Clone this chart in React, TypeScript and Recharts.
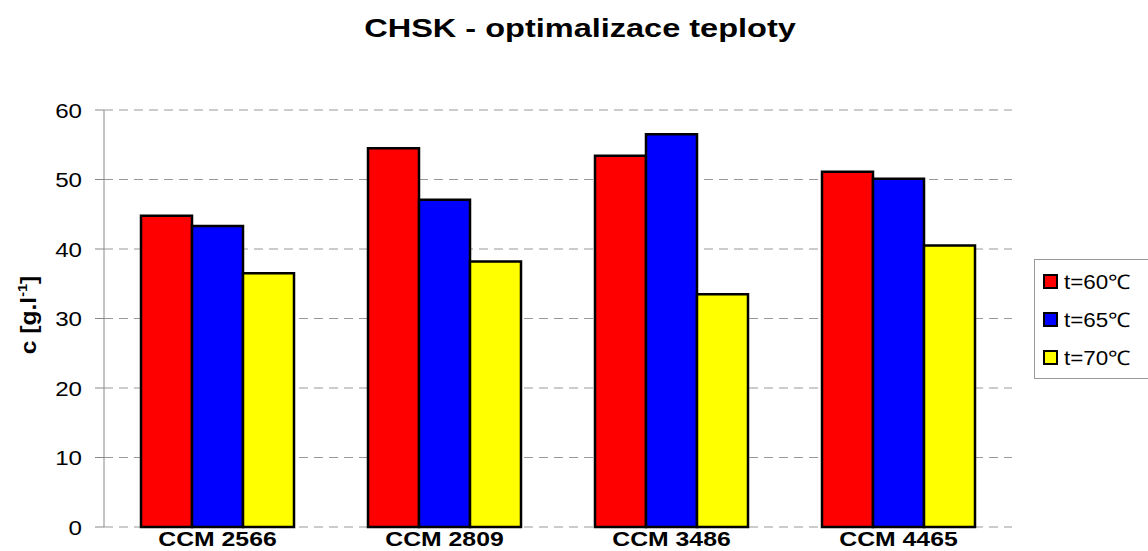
import { Bar, BarChart, CartesianGrid, XAxis, YAxis } from "recharts";

const categories = ["CCM 2566", "CCM 2809", "CCM 3486", "CCM 4465"];
const t60 = [44.8, 54.5, 53.4, 51.1];
const t65 = [43.3, 47.1, 56.5, 50.1];
const t70 = [36.5, 38.2, 33.5, 40.5];
const yTicks = [0, 10, 20, 30, 40, 50, 60];

const SERIES = [
  { key: "t60", name: "t=60℃", color: "#ff0000" },
  { key: "t65", name: "t=65℃", color: "#0000ff" },
  { key: "t70", name: "t=70℃", color: "#ffff00" },
];

const FONT = "'Liberation Sans', Arial, sans-serif";

const data = categories.map((name, i) => ({
  name,
  t60: t60[i],
  t65: t65[i],
  t70: t70[i],
}));

// reference text is stretched sideways a bit, so scale it horizontally
function XTick({ x, y, payload }: any) {
  return (
    <text
      transform={`translate(${x},${y + 19}) scale(1.18,1)`}
      textAnchor="middle"
      fontFamily={FONT}
      fontWeight="bold"
      fontSize={21}
      fill="#000"
    >
      {payload.value}
    </text>
  );
}

function YTick({ x, y, payload }: any) {
  return (
    <text
      transform={`translate(${x},${y}) scale(1.15,1)`}
      textAnchor="end"
      dy="0.36em"
      fontFamily={FONT}
      fontSize={21}
      fill="#000"
    >
      {payload.value}
    </text>
  );
}

function LegendBox() {
  return (
    <div
      style={{
        position: "absolute",
        left: 1034,
        top: 259,
        width: 114,
        border: "1px solid #999",
        borderRight: "none",
        background: "#fff",
        padding: "2px 0 2px 8px",
        boxSizing: "border-box",
        fontFamily: FONT,
      }}
    >
      {SERIES.map((s) => (
        <div key={s.key} style={{ display: "flex", alignItems: "center", height: 38 }}>
          <span
            style={{
              display: "inline-block",
              width: 11,
              height: 11,
              background: s.color,
              border: "2px solid #000",
              marginRight: 6,
            }}
          />
          <span
            style={{
              fontSize: 20,
              color: "#000",
              display: "inline-block",
              transform: "scaleX(1.12)",
              transformOrigin: "left center",
            }}
          >
            {s.name}
          </span>
        </div>
      ))}
    </div>
  );
}

function YLabel() {
  return (
    <text
      transform="translate(36, 315) rotate(-90) scale(1.12,1)"
      textAnchor="middle"
      fontFamily={FONT}
      fontWeight="bold"
      fontSize={22}
      fill="#000"
    >
      c [g.l
      <tspan dy={-9} fontSize={13}>-1</tspan>
      <tspan dy={9}>]</tspan>
    </text>
  );
}

export default function App() {
  return (
    <div style={{ position: "absolute", left: 0, top: 0, width: 1148, height: 551, background: "#fff", overflow: "hidden" }}>
      <div
        style={{
          position: "absolute",
          top: 14,
          left: 0,
          width: 1160,
          textAlign: "center",
          fontFamily: FONT,
          fontWeight: "bold",
          fontSize: 25,
          color: "#000",
        }}
      >
        <span style={{ display: "inline-block", transform: "scaleX(1.3)" }}>
          CHSK - optimalizace teploty
        </span>
      </div>
      <BarChart
        width={1148}
        height={551}
        data={data}
        margin={{ top: 110, right: 136, left: 0, bottom: 0 }}
        barGap={0}
        style={{ position: "absolute", left: 0, top: 0 }}
      >
        <CartesianGrid vertical={false} stroke="#999" strokeDasharray="9 6" />
        <XAxis
          dataKey="name"
          axisLine={false}
          tickLine={false}
          tickSize={0}
          tickMargin={0}
          interval={0}
          height={24}
          tick={<XTick />}
        />
        <YAxis
          width={104}
          domain={[0, 60]}
          ticks={yTicks}
          stroke="#888"
          tickSize={9}
          tickMargin={13}
          tick={<YTick />}
        />
        {SERIES.map((s) => (
          <Bar
            key={s.key}
            dataKey={s.key}
            name={s.name}
            fill={s.color}
            stroke="#000"
            strokeWidth={2.5}
            barSize={51}
            isAnimationActive={false}
          />
        ))}
        <YLabel />
      </BarChart>
      <LegendBox />
    </div>
  );
}
